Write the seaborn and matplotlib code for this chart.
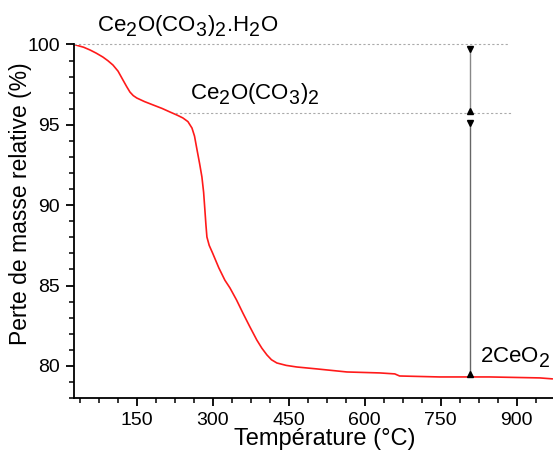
import matplotlib
matplotlib.use("Agg")
import matplotlib.pyplot as plt
import matplotlib._mathtext as _mt
import seaborn as sns
import pandas as pd

# Data
temperature = [26, 45, 57.6, 70, 83, 93, 103, 113, 122.7, 130, 136.5, 143, 150, 165, 182,
               200, 215.5, 230, 241, 251, 259, 264, 269, 274, 278.6, 282, 284.5, 286.5,
               288.5, 293, 300, 312, 324, 334, 347, 359.5, 373, 387, 397, 407, 416,
               426.6, 445, 466, 505.6, 565, 630, 659.5, 669, 748, 847, 946, 971]
mass = [100, 99.83, 99.66, 99.46, 99.22, 98.99, 98.72, 98.34, 97.79, 97.38, 97.04, 96.82,
        96.67, 96.45, 96.24, 96.02, 95.8, 95.6, 95.43, 95.2, 94.8, 94.3, 93.44, 92.6,
        91.76, 90.8, 89.7, 88.8, 88.02, 87.5, 87.0, 86.1, 85.33, 84.85, 84.1, 83.29,
        82.45, 81.61, 81.1, 80.68, 80.38, 80.18, 80.03, 79.93, 79.81, 79.62, 79.56, 79.5,
        79.37, 79.31, 79.31, 79.25, 79.19]

x_ticks = [150, 300, 450, 600, 750, 900]
y_ticks = [80, 85, 90, 95, 100]
levels = [100, 95.71]
labels = ["Ce$_2$O(CO$_3$)$_2$.H$_2$O", "Ce$_2$O(CO$_3$)$_2$", "2CeO$_2$"]

_mt.SHRINK_FACTOR = 0.88
try:
    _mt.FontConstantsBase.sub1 = 0.42
    _mt.FontConstantsBase.sub2 = 0.6
except Exception:
    pass

sns.set_theme(style="ticks")
plt.rcParams['font.family'] = ['Liberation Sans', 'DejaVu Sans']
plt.rcParams['mathtext.fontset'] = 'custom'
plt.rcParams['mathtext.rm'] = 'Liberation Sans'
plt.rcParams['mathtext.it'] = 'Liberation Sans'
plt.rcParams['text.color'] = 'black'
plt.rcParams['axes.labelcolor'] = 'black'

fig = plt.figure(figsize=(5.53, 4.59), dpi=100)
ax = fig.add_axes([74/553, 1 - 398/459, 1 - 74/553, (398 - 44.5)/459])

df = pd.DataFrame({"T": temperature, "m": mass})
sns.lineplot(data=df, x="T", y="m", ax=ax, color="#ff1a1a", lw=1.2)

ax.set_xlim(26, 972)
ax.set_ylim(78, 100)
ax.set_xticks(x_ticks)
ax.set_yticks(y_ticks)
ax.set_xticks([37.5 + 37.5 * i for i in range(26) if 37.5 + 37.5 * i < 972], minor=True)
ax.set_yticks(list(range(78, 101)), minor=True)
for s in ["top", "right"]:
    ax.spines[s].set_visible(False)
for s in ["left", "bottom"]:
    ax.spines[s].set_linewidth(1.3)
    ax.spines[s].set_color("black")
ax.tick_params(axis="both", which="major", length=6, width=1.3, labelsize=14, pad=4,
               colors="black")
ax.tick_params(axis="both", which="minor", length=3.5, width=1.1, colors="black")

ax.set_xlabel("Température (°C)", fontsize=17)
ax.set_ylabel("Perte de masse relative (%)", fontsize=16.5)
ax.xaxis.set_label_coords(0.524, -0.085)
ax.xaxis.label.set_va("top")
ax.yaxis.set_label_coords(-0.088, 0.549)

# dotted reference lines
ax.plot([26, 883], [levels[0], levels[0]], color="#aaaaaa", lw=0.8, ls=(0, (2, 2)), clip_on=False)
ax.plot([225, 890], [levels[1], levels[1]], color="#aaaaaa", lw=0.8, ls=(0, (2, 2)))

# dimension arrows
xa = 807.5
ax.plot([xa, xa], [99.75, 95.85], color="#888888", lw=1.0)
ax.plot([xa], [99.72], marker="v", color="black", ms=4, clip_on=False)
ax.plot([xa], [95.88], marker="^", color="black", ms=4)
ax.plot([xa, xa], [95.1, 79.45], color="#666666", lw=1.0)
ax.plot([xa], [95.1], marker="v", color="black", ms=4)
ax.plot([xa], [79.48], marker="^", color="black", ms=4)

ax.text(71, 100.75, labels[0], fontsize=16, ha="left", va="baseline", clip_on=False)
ax.text(255, 96.55, labels[1], fontsize=16, ha="left", va="baseline")
ax.text(827, 80.2, labels[2], fontsize=16, ha="left", va="baseline", clip_on=False)

fig.savefig("out.png", dpi=100)
